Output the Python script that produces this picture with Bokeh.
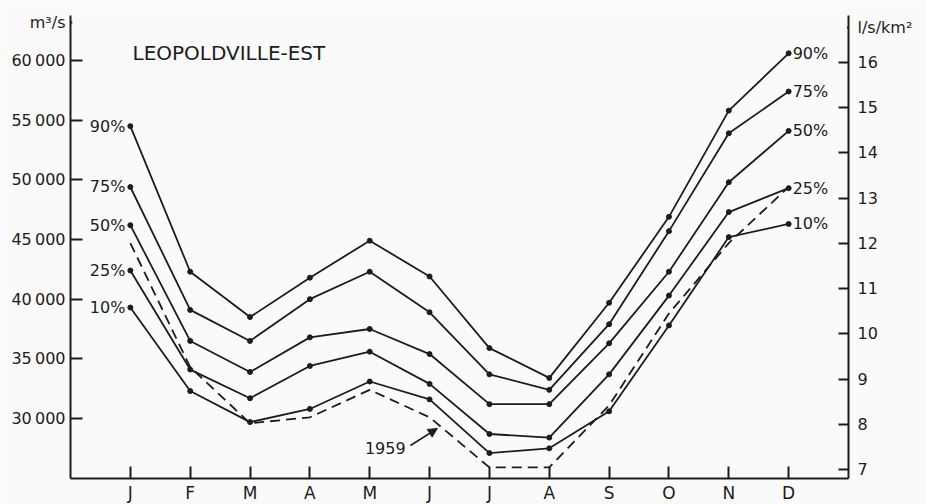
from bokeh.plotting import figure
from bokeh.models import (Range1d, LinearAxis, FixedTicker, ColumnDataSource,
                          Label, Arrow, NormalHead, BoxAnnotation)
from bokeh.core.properties import value
from bokeh.embed import file_html
from bokeh.resources import INLINE

# ---- data (m3/s) ----
months = ["J", "F", "M", "A", "M", "J", "J", "A", "S", "O", "N", "D"]
month_pos = [1, 2, 3, 4, 5, 6, 7, 8, 9, 10, 11, 12]

q90 = [54500, 42300, 38500, 41800, 44900, 41900, 35900, 33400, 39700, 46900, 55800, 60600]
q75 = [49400, 39100, 36500, 40000, 42300, 38900, 33700, 32400, 37900, 45700, 53900, 57400]
q50 = [46200, 36500, 33900, 36800, 37500, 35400, 31200, 31200, 36300, 42300, 49800, 54100]
q25 = [42400, 34100, 31700, 34400, 35600, 32900, 28700, 28400, 33700, 40300, 47300, 49300]
q10 = [39300, 32300, 29700, 30800, 33100, 31600, 27100, 27500, 30600, 37800, 45200, 46300]
y1959 = [44700, 34300, 29600, 30100, 32400, 30100, 25900, 25900, 31100, 38800, 44700, 49400]

series_labels = ["90%", "75%", "50%", "25%", "10%"]

left_ticks = [30000, 35000, 40000, 45000, 50000, 55000, 60000]
left_tick_labels = ["30\u2009000", "35\u2009000", "40\u2009000", "45\u2009000",
                    "50\u2009000", "55\u2009000", "60\u2009000"]
right_ticks = [7, 8, 9, 10, 11, 12, 13, 14, 15, 16]

left_unit = "m\u00b3/s"
right_unit = "l/s/km\u00b2"
LEFT_UNIT_AT = 63184     # axis position of the unit caption (m3/s scale)
RIGHT_UNIT_AT = 16.78    # axis position of the unit caption (l/s/km2 scale)

FONT = "DejaVu Sans"
INK = "#1c1c1c"
BG = "#fafafa"

p = figure(frame_width=778, frame_height=463, output_backend="svg",
           toolbar_location=None,
           x_range=Range1d(0, 13), y_range=Range1d(24972, 63771),
           min_border_left=70, min_border_right=78, min_border_top=15,
           min_border_bottom=22, background_fill_color=BG,
           border_fill_color=BG, outline_line_color=None)
p.grid.visible = False

p.extra_y_ranges = {"r": Range1d(6.801, 17.04)}


def style_axis(ax, tick_in, standoff, size="16px"):
    ax.major_tick_in = tick_in
    ax.major_tick_out = 0
    ax.minor_tick_line_color = None
    ax.major_label_standoff = standoff
    ax.axis_line_width = 2
    ax.major_tick_line_width = 2
    ax.axis_line_color = INK
    ax.major_tick_line_color = INK
    ax.major_label_text_font = FONT
    ax.major_label_text_font_size = size
    ax.major_label_text_color = INK


# bottom axis
xa = p.xaxis[0]
xa.ticker = FixedTicker(ticks=month_pos)
xa.major_label_overrides = {m: lab for m, lab in zip(month_pos, months)}
style_axis(xa, 12, 4, "17px")

# left axis (unit caption as the topmost label)
ya = p.yaxis[0]
ya.ticker = FixedTicker(ticks=left_ticks + [LEFT_UNIT_AT])
overrides = {t: lab for t, lab in zip(left_ticks, left_tick_labels)}
overrides[LEFT_UNIT_AT] = left_unit
ya.major_label_overrides = overrides
style_axis(ya, 12, 5)

# right axis (unit caption as the topmost label)
ra = LinearAxis(y_range_name="r", ticker=FixedTicker(ticks=right_ticks + [RIGHT_UNIT_AT]))
ra.major_label_overrides = {RIGHT_UNIT_AT: right_unit}
style_axis(ra, 10, 9)
p.add_layout(ra, "right")

# hide the tick stubs beside the unit captions
p.add_layout(BoxAnnotation(left=0.03, right=0.26, bottom=LEFT_UNIT_AT - 330,
                           top=LEFT_UNIT_AT + 330, fill_color=BG, fill_alpha=1,
                           line_color=None))
p.add_layout(BoxAnnotation(left=12.74, right=12.975, bottom=RIGHT_UNIT_AT - 0.07,
                           top=RIGHT_UNIT_AT + 0.07, y_range_name="r",
                           fill_color=BG, fill_alpha=1, line_color=None))

# percentile curves
all_series = [q90, q75, q50, q25, q10]
for ser in all_series:
    p.line(month_pos, ser, line_color=INK, line_width=1.8)
    p.scatter(month_pos, ser, size=5, fill_color=INK, line_color=INK)

# 1959 dashed curve
p.line(month_pos, y1959, line_color=INK, line_width=1.8, line_dash="10 6")

# series labels, left (January) and right (December)
left_src = ColumnDataSource(dict(x=[month_pos[0]] * 5, y=[s[0] for s in all_series],
                                 t=series_labels))
right_src = ColumnDataSource(dict(x=[month_pos[-1]] * 5, y=[s[-1] for s in all_series],
                                  t=series_labels))
p.text(x="x", y="y", text="t", source=left_src, text_align="right",
       text_baseline="middle", x_offset=-5, text_font=value(FONT),
       text_font_size="16px", text_color=INK)
p.text(x="x", y="y", text="t", source=right_src, text_align="left",
       text_baseline="middle", x_offset=4, text_font=value(FONT),
       text_font_size="16px", text_color=INK)

# title
p.add_layout(Label(x=1.036, y=60670, text="LEOPOLDVILLE-EST", text_font=FONT,
                   text_font_size="20px", text_color=INK, text_baseline="middle"))

# 1959 annotation
p.add_layout(Label(x=5.26, y=27486, text="1959", text_font=FONT,
                   text_font_size="16px", text_color=INK, text_baseline="middle",
                   text_align="center"))
p.add_layout(Arrow(x_start=5.68, y_start=27737, x_end=6.13, y_end=29162,
                   line_color=INK, line_width=1.5,
                   end=NormalHead(size=9, fill_color=INK, line_color=INK)))

open("out.html", "w").write(file_html(p, INLINE))
